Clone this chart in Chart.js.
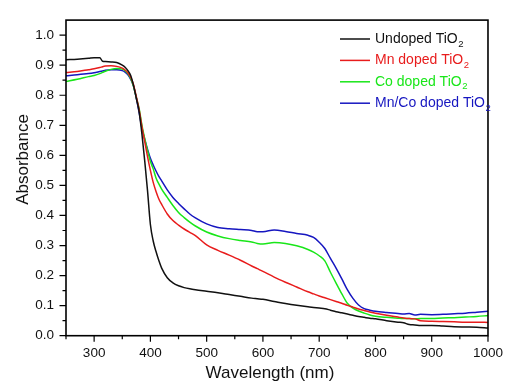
<!DOCTYPE html>
<html>
<head>
<meta charset="utf-8">
<script src="https://cdn.jsdelivr.net/npm/chart.js@4.4.1/dist/chart.umd.min.js"></script>
<style>
  html, body { margin: 0; padding: 0; background: #fff; }
  canvas { display: block; }
</style>
</head>
<body>
<canvas id="myChart" width="512" height="382"></canvas>
<script>

// wavelength grid (nm) shared by all four spectra
const wavelength = [250, 270, 290, 300, 310, 315, 320, 330, 340, 350, 355, 360, 365, 370, 375, 380, 385, 390, 395, 400,
    405, 410, 415, 420, 430, 440, 450, 460, 470, 480, 500, 520, 540, 560, 580, 590, 600, 620, 640, 660,
    680, 690, 700, 710, 720, 730, 740, 750, 760, 770, 780, 790, 800, 820, 840, 850, 860, 870, 880, 900,
    920, 940, 960, 980, 1000];

const undoped = [0.918, 0.920, 0.923, 0.925, 0.925, 0.913, 0.912, 0.911, 0.909, 0.900, 0.893, 0.882, 0.866, 0.833, 0.790, 0.745, 0.670, 0.580, 0.480, 0.370,
    0.315, 0.280, 0.250, 0.225, 0.193, 0.176, 0.166, 0.160, 0.156, 0.153, 0.148, 0.143, 0.137, 0.131, 0.125, 0.123, 0.121, 0.114, 0.107, 0.101,
    0.096, 0.094, 0.092, 0.090, 0.085, 0.080, 0.076, 0.072, 0.068, 0.064, 0.061, 0.058, 0.056, 0.050, 0.045, 0.043, 0.037, 0.036, 0.034, 0.034,
    0.032, 0.030, 0.029, 0.028, 0.026];

const mnDoped = [0.876, 0.879, 0.885, 0.888, 0.892, 0.895, 0.897, 0.898, 0.896, 0.890, 0.884, 0.875, 0.860, 0.835, 0.795, 0.752, 0.695, 0.645, 0.595, 0.550,
    0.510, 0.480, 0.455, 0.437, 0.405, 0.383, 0.368, 0.355, 0.344, 0.333, 0.302, 0.284, 0.268, 0.251, 0.232, 0.223, 0.214, 0.195, 0.178, 0.162,
    0.146, 0.139, 0.132, 0.126, 0.120, 0.114, 0.108, 0.101, 0.095, 0.089, 0.084, 0.079, 0.075, 0.068, 0.062, 0.059, 0.057, 0.056, 0.050, 0.048,
    0.047, 0.046, 0.045, 0.045, 0.044];

const coDoped = [0.846, 0.853, 0.862, 0.866, 0.872, 0.876, 0.880, 0.886, 0.889, 0.887, 0.882, 0.872, 0.856, 0.830, 0.792, 0.755, 0.700, 0.655, 0.615, 0.580,
    0.555, 0.525, 0.505, 0.488, 0.460, 0.433, 0.410, 0.393, 0.378, 0.365, 0.345, 0.332, 0.323, 0.317, 0.312, 0.307, 0.305, 0.310, 0.307, 0.299,
    0.287, 0.278, 0.266, 0.249, 0.211, 0.175, 0.140, 0.108, 0.092, 0.082, 0.075, 0.069, 0.065, 0.061, 0.058, 0.057, 0.057, 0.056, 0.057, 0.057,
    0.059, 0.060, 0.062, 0.064, 0.067];

const mnCoDoped = [0.865, 0.868, 0.872, 0.875, 0.879, 0.881, 0.883, 0.885, 0.885, 0.882, 0.877, 0.868, 0.853, 0.830, 0.790, 0.742, 0.690, 0.653, 0.620, 0.590,
    0.568, 0.548, 0.530, 0.515, 0.485, 0.460, 0.440, 0.422, 0.405, 0.392, 0.372, 0.360, 0.356, 0.353, 0.350, 0.346, 0.346, 0.352, 0.347, 0.340,
    0.334, 0.327, 0.311, 0.290, 0.257, 0.225, 0.190, 0.153, 0.124, 0.102, 0.090, 0.085, 0.081, 0.077, 0.074, 0.072, 0.074, 0.069, 0.071, 0.070,
    0.071, 0.073, 0.075, 0.078, 0.081];

const seriesNames = ["Undoped TiO₂", "Mn doped TiO₂", "Co doped TiO₂", "Mn/Co doped TiO₂"];
const seriesColors = ["#111111", "#e81c1c", "#19e619", "#1616c0"];

const xMajorTicks = [300, 400, 500, 600, 700, 800, 900, 1000];
const xMinorTicks = [250, 350, 450, 550, 650, 750, 850, 950];
const yMajorTicks = [0.0, 0.1, 0.2, 0.3, 0.4, 0.5, 0.6, 0.7, 0.8, 0.9, 1.0];
const yMinorTicks = [0.05, 0.15, 0.25, 0.35, 0.45, 0.55, 0.65, 0.75, 0.85, 0.95];

const xTitle = "Wavelength (nm)";
const yTitle = "Absorbance";

const FONT = "'Liberation Sans', Arial, sans-serif";

// box around plot + outward tick marks (long major, short minor)
const framePlugin = {
    id: "frame",
    afterDraw(chart) {
        const ctx = chart.ctx;
        const a = chart.chartArea;
        const xs = chart.scales.x;
        const ys = chart.scales.y;
        ctx.save();
        ctx.strokeStyle = "#000";
        ctx.lineWidth = 1.2;
        ctx.beginPath();
        xMajorTicks.forEach(v => { const p = xs.getPixelForValue(v); ctx.moveTo(p, a.bottom); ctx.lineTo(p, a.bottom + 6); });
        xMinorTicks.forEach(v => { const p = xs.getPixelForValue(v); ctx.moveTo(p, a.bottom); ctx.lineTo(p, a.bottom + 3.5); });
        yMajorTicks.forEach(v => { const p = ys.getPixelForValue(v); ctx.moveTo(a.left, p); ctx.lineTo(a.left - 6.5, p); });
        yMinorTicks.forEach(v => { const p = ys.getPixelForValue(v); ctx.moveTo(a.left, p); ctx.lineTo(a.left - 3.5, p); });
        ctx.stroke();
        ctx.lineWidth = 1.6;
        ctx.strokeRect(a.left, a.top, a.right - a.left, a.bottom - a.top);

        // axis titles
        ctx.fillStyle = "#111";
        ctx.font = "17px " + FONT;
        ctx.textAlign = "center";
        ctx.textBaseline = "alphabetic";
        ctx.fillText(xTitle, 270, 378);
        ctx.translate(27.5, 159.5);
        ctx.rotate(-Math.PI / 2);
        ctx.fillText(yTitle, 0, 0);
        ctx.restore();
    }
};

// legend in upper right, with subscript 2
const legendPlugin = {
    id: "subLegend",
    afterDraw(chart) {
        const ctx = chart.ctx;
        ctx.save();
        chart.data.datasets.forEach((ds, i) => {
            const y = 39 + i * 21.4;
            ctx.strokeStyle = ds.borderColor;
            ctx.lineWidth = 1.5;
            ctx.beginPath();
            ctx.moveTo(340, y);
            ctx.lineTo(370, y);
            ctx.stroke();

            const parts = ds.label.split("₂");
            ctx.fillStyle = ds.borderColor;
            ctx.textBaseline = "middle";
            ctx.textAlign = "left";
            ctx.font = "14px " + FONT;
            ctx.fillText(parts[0], 375, y);
            const w = ctx.measureText(parts[0]).width;
            ctx.font = "9.5px " + FONT;
            ctx.fillText("2", 375 + w + 0.5, y + 5);
        });
        ctx.restore();
    }
};

const series = [undoped, mnDoped, coDoped, mnCoDoped];

const data = {
    datasets: series.map((vals, i) => ({
        label: seriesNames[i],
        data: vals.map((v, j) => ({ x: wavelength[j], y: v })),
        borderColor: seriesColors[i],
        borderWidth: 1.5,
        pointRadius: 0,
        cubicInterpolationMode: "monotone",
        fill: false
    }))
};

const chart = new Chart(document.getElementById("myChart"), {
    type: "line",
    data: data,
    options: {
        responsive: false,
        animation: false,
        events: [],
        layout: { padding: { top: 14, right: 15, left: 0, bottom: 0 } },
        plugins: {
            legend: { display: false },
            tooltip: { enabled: false }
        },
        scales: {
            x: {
                type: "linear",
                min: 250,
                max: 1000,
                afterBuildTicks: s => { s.ticks = xMajorTicks.map(v => ({ value: v })); },
                afterFit: s => { s.height = 46.3; },
                grid: { display: false, drawTicks: false },
                border: { display: false },
                ticks: {
                    padding: 9,
                    maxRotation: 0,
                    color: "#111",
                    font: { family: FONT, size: 13.5 },
                    callback: v => String(v)
                }
            },
            y: {
                type: "linear",
                min: 0,
                max: 1.05,
                afterBuildTicks: s => { s.ticks = yMajorTicks.map(v => ({ value: v })); },
                afterFit: s => { s.width = 66; },
                grid: { display: false, drawTicks: false },
                border: { display: false },
                ticks: {
                    padding: 12,
                    color: "#111",
                    font: { family: FONT, size: 13.5 },
                    callback: v => Number(v).toFixed(1)
                }
            }
        }
    },
    plugins: [framePlugin, legendPlugin]
});

</script>
</body>
</html>
